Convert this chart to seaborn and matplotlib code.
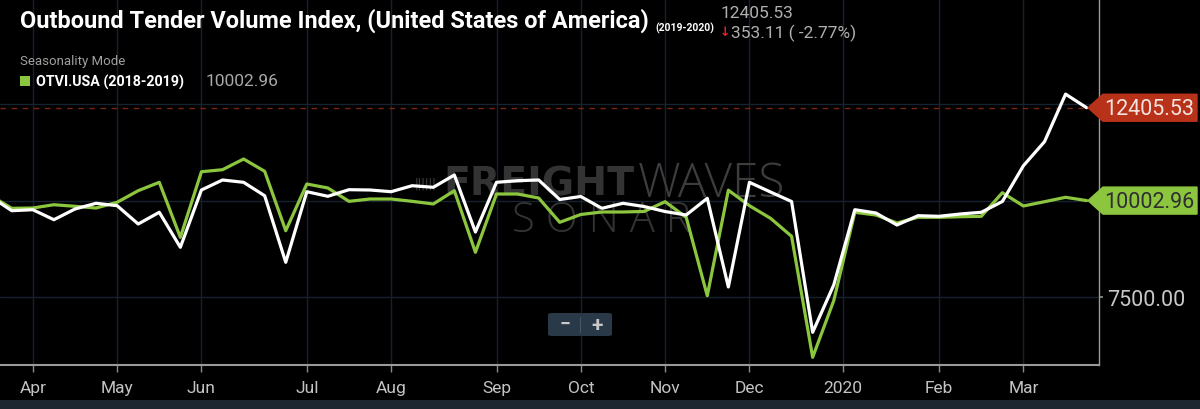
import pandas as pd
import numpy as np
import seaborn as sns
import matplotlib.pyplot as plt
from matplotlib.patches import Polygon, FancyBboxPatch, Rectangle
from matplotlib.transforms import IdentityTransform

# weekly points, first one sits just left of the visible window
week_start = "2019-03-24"
otvi_2019_2020 = [
    10106, 9741, 9767, 9508, 9785, 9933, 9871, 9397, 9700, 8794,
    10277, 10536, 10476, 10129, 8406, 10233, 10114, 10285, 10277, 10233,
    10388, 10347, 10665, 9190, 10476, 10518, 10536, 10031, 10109, 9803,
    9933, 9850, 9720, 9630, 10062, 7767, 10476, 10225, 9979, 6594,
    7818, 9767, 9682, 9371, 9612, 9596, 9656, 9700, 9979, 10906,
    11527, 12758.64, 12405.53,
]
otvi_2018_2019 = [
    10132, 9803, 9811, 9896, 9855, 9811, 9959, 10259, 10476, 9053,
    10750, 10802, 11079, 10761, 9224, 10432, 10329, 9984, 10044, 10044,
    9984, 9915, 10259, 8665, 10173, 10173, 10070, 9441, 9643, 9708,
    9708, 9721, 9974, 9570, 7541, 10272, 9871, 9545, 9079, 5947,
    7412, 9700, 9630, 9423, 9570, 9570, 9586, 9596, 10207, 9863,
    9974, 10088, 10002.96,
]
month_ticks = ["2019-04-07", "2019-05-05", "2019-06-02", "2019-07-07", "2019-08-04",
               "2019-09-08", "2019-10-06", "2019-11-03", "2019-12-01", "2020-01-01",
               "2020-02-02", "2020-03-01"]
month_labels = ["Apr", "May", "Jun", "Jul", "Aug", "Sep", "Oct", "Nov", "Dec",
                "2020", "Feb", "Mar"]
y_ticks = [7500, 10000, 12500]

last_val = otvi_2019_2020[-1]
prev_val = otvi_2019_2020[-2]
seasonal_last = otvi_2018_2019[-1]

dates = pd.date_range(week_start, periods=len(otvi_2019_2020), freq="7D")
df = pd.DataFrame({
    "date": np.concatenate([dates, dates]),
    "value": otvi_2019_2020 + otvi_2018_2019,
    "series": ["cur"] * len(dates) + ["prev"] * len(dates),
})

BG = "#000000"
GRID = "#152230"
WHITE = "#ffffff"
GREEN = "#8cc63f"
RED = "#b8321a"

sns.set_theme(style="dark")
plt.rcParams["font.family"] = ["Roboto", "DejaVu Sans"]

fig = plt.figure(figsize=(12, 4.1), dpi=100, facecolor=BG)
ax = fig.add_axes([0, 44 / 410, 1099 / 1200, 366 / 410])
ax.set_facecolor(BG)

sns.lineplot(data=df, x="date", y="value", hue="series",
             palette={"prev": GREEN, "cur": WHITE}, hue_order=["prev", "cur"],
             linewidth=2.3, legend=False, ax=ax, zorder=3)

# x window runs from a little before the first full week to just past the last point
t0 = dates[1]
ax.set_xlim(t0 - pd.Timedelta(days=3.9), t0 + pd.Timedelta(days=361.1))
ax.set_ylim(5748, 15220)

ax.set_xticks(pd.to_datetime(month_ticks))
ax.set_xticklabels(month_labels)
ax.set_yticks(y_ticks)
# the 10000 and 12500 labels sit under the value tags
ax.set_yticklabels([f"{v:.2f}" if v == 7500 else "" for v in y_ticks])
ax.yaxis.tick_right()
ax.tick_params(axis="x", colors="#8a8a8a", labelcolor="#c4c4c4", labelsize=12.5,
               length=5, width=1, pad=6, direction="out", bottom=True)
ax.tick_params(axis="y", colors="#8a8a8a", labelcolor="#c8c8c8", labelsize=15.5,
               length=3, pad=3, right=True)
ax.set_xlabel("")
ax.set_ylabel("")

ax.grid(True, color=GRID, linewidth=1)
ax.set_axisbelow(True)
for side in ["top", "left"]:
    ax.spines[side].set_visible(False)
ax.spines["bottom"].set_color("#9a9a9a")
ax.spines["bottom"].set_linewidth(1.5)
ax.spines["right"].set_color("#9a9a9a")
ax.spines["right"].set_linewidth(1)

# last price line
ax.axhline(last_val, color="#7a2414", linewidth=1, linestyle=(0, (4, 4)), zorder=2)


def px(x, y):
    return x / 1200, 1 - y / 410


def fit_width(txt, width_px):
    # scale a text so it spans the same width as in the reference
    renderer = fig.canvas.get_renderer()
    w = txt.get_window_extent(renderer).width
    txt.set_fontsize(txt.get_fontsize() * width_px / w)


# watermark
wm = dict(transform=fig.transFigure, zorder=1, va="center")
fit_width(ax.text(*px(443, 185), "FREIGHT", color="#333333", fontsize=22,
                  fontweight="heavy", family=["DejaVu Sans"], **wm), 190)
fit_width(ax.text(*px(638, 185), "WAVES", color="#3d3d3d", fontsize=22,
                  fontweight="light", family=["Open Sans", "DejaVu Sans"], **wm), 147)
fit_width(ax.text(*px(512, 221), "S O N A R", color="#333333", fontsize=22,
                  fontweight="light", family=["Open Sans", "DejaVu Sans"], **wm), 178)
ax.text(*px(436, 185), "||||||", color="#3a3a3a", fontsize=11, ha="right", **wm)

# zoom buttons
btn = FancyBboxPatch(px(548, 337), 64 / 1200, 23 / 410,
                     boxstyle="round,pad=0,rounding_size=0.004",
                     transform=fig.transFigure, facecolor="#2a3947",
                     edgecolor="none", zorder=4)
ax.add_patch(btn)
btn.set_clip_on(False)
ax.text(*px(565, 325), "−", color="#c9c9c9", fontsize=14,
        fontweight="bold", ha="center", transform=fig.transFigure, zorder=5, va="center")
ax.text(*px(597, 325), "+", color="#c9c9c9", fontsize=15,
        fontweight="bold", ha="center", transform=fig.transFigure, zorder=5, va="center")
ax.plot([580 / 1200, 580 / 1200], [1 - 318 / 410, 1 - 333 / 410], color="#46566a",
        linewidth=0.8, transform=fig.transFigure, zorder=5, clip_on=False)


def value_tag(val, face, text_color):
    yd = ax.transData.transform((0, val))[1]
    tip, body_l, body_r, half = 1088, 1103, 1197, 13.5
    pts = [(tip, yd), (body_l, yd + half), (body_r, yd + half),
           (body_r, yd - half), (body_l, yd - half)]
    tag = Polygon(pts, closed=True, transform=IdentityTransform(),
                  facecolor=face, edgecolor=face, linewidth=1, zorder=10,
                  clip_on=False)
    ax.add_patch(tag)
    ax.text(1149, yd - 1, f"{val:.2f}", transform=IdentityTransform(),
            color=text_color, fontsize=15.5, ha="center", va="center",
            zorder=11, clip_on=False)


value_tag(last_val, RED, "#f4e4e0")
value_tag(seasonal_last, GREEN, "#2f2f2f")

# header
title = fig.text(*px(20, 21), "Outbound Tender Volume Index, (United States of America)",
                 color="white", fontsize=20, fontweight="bold", va="center")
fit_width(title, 626)
fig.text(*px(655, 28), "(2019-2020)", color="white", fontsize=7.5,
         fontweight="bold", va="center")
fig.text(*px(721, 13), f"{last_val:.2f}", color="#b0b0b0", fontsize=12.5, va="center")
fig.text(*px(720, 33), "↓", color="#e8202a", fontsize=9, fontweight="bold",
         family=["DejaVu Sans"], va="center")
change = last_val - prev_val
fig.text(*px(731, 33), f"{abs(change):.2f} ( {change / prev_val * 100:.2f}%)",
         color="#b0b0b0", fontsize=12.5, va="center")
fig.text(*px(20, 61), "Seasonality Mode", color="#a0a0a0", fontsize=9.5, va="center")
fig.patches.append(Rectangle(px(20, 87), 10 / 1200, 10 / 410, transform=fig.transFigure,
                             facecolor=GREEN, edgecolor="none", figure=fig))
legend_txt = fig.text(*px(36, 82), "OTVI.USA (2018-2019)", color="white", fontsize=10,
                      fontweight="bold", va="center")
fit_width(legend_txt, 149)
fig.text(*px(206, 82), f"{seasonal_last:.2f}", color="#a8a8a8", fontsize=12.5,
         va="center")

# bottom strip
fig.patches.append(Rectangle((0, 0), 1, 9 / 410, transform=fig.transFigure,
                             facecolor="#1c2631", edgecolor="none", figure=fig))

fig.savefig("out.png", dpi=100, facecolor=BG)
